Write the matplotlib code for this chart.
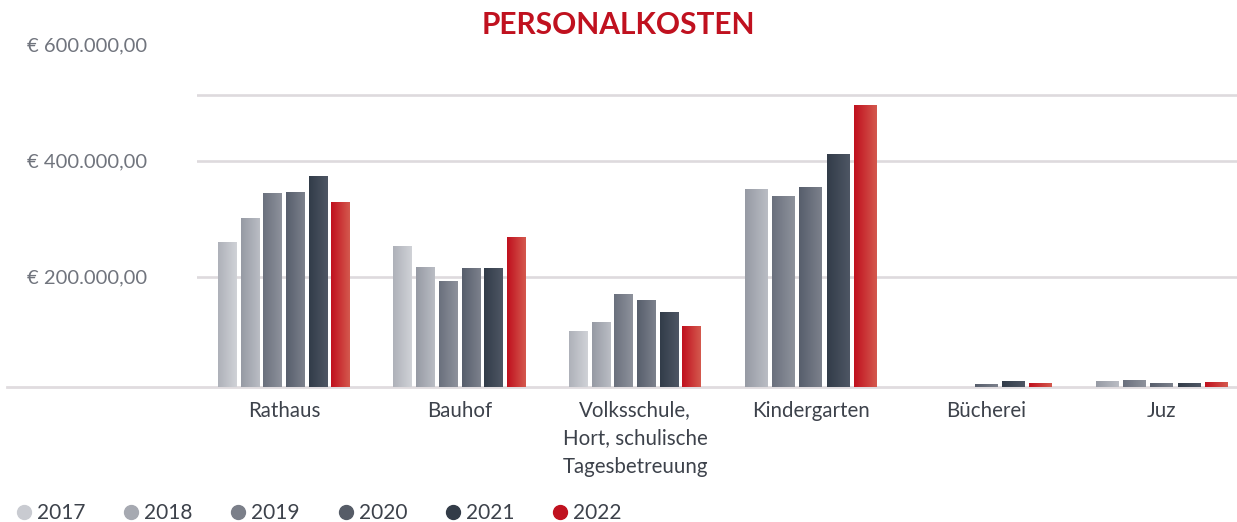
import numpy as np
import matplotlib
matplotlib.use("Agg")
import matplotlib.pyplot as plt
from matplotlib.colors import LinearSegmentedColormap
from matplotlib.lines import Line2D

# ---------------- data ----------------
title = "PERSONALKOSTEN"
categories = ["Rathaus", "Bauhof", "Volksschule,\nHort, schulische\nTagesbetreuung",
              "Kindergarten", "Bücherei", "Juz"]
years = ["2017", "2018", "2019", "2020", "2021", "2022"]
v2017 = [259000, 253000, 106000, None, None, None]
v2018 = [301000, 215500, 121000, 351000, 0, 19000]
v2019 = [344000, 193000, 169000, 339000, 0, 20700]
v2020 = [345500, 214500, 159000, 355000, 13800, 16700]
v2021 = [372500, 214500, 138000, 411000, 19000, 15500]
v2022 = [329000, 268000, 115000, 496000, 16700, 18400]
series = [v2017, v2018, v2019, v2020, v2021, v2022]
ytick_values = [200000, 400000, 600000]
ytick_labels = ["€ 200.000,00", "€ 400.000,00", "€ 600.000,00"]
grid_values = [200000, 400000, 513000]

# ---------------- style ----------------
solid = ["#c9cbd1", "#a6a9b1", "#7b7f89", "#565c67", "#333c48", "#c0111f"]
grad = [("#aeb1b9", "#d0d2d7"), ("#969aa4", "#babdc4"), ("#6a707d", "#8e929c"),
        ("#575e6c", "#7c818c"), ("#323c49", "#4e5664"), ("#c0101e", "#d4594e")]
FONT = ["Lato", "DejaVu Sans"]
plt.rcParams["font.family"] = FONT

fig = plt.figure(figsize=(12.37, 5.22), dpi=100)
ax = fig.add_axes([0.1593, 0.2592, 0.8407, 0.6663])
YMIN, YMAX = 10300, 610000
XMIN = -0.4957
XMAX = XMIN + 1040 / 175.5
G = 0.776
FILL = 0.824

for gv in grid_values:
    ax.axhline(gv, color="#dedadd", lw=1.9, zorder=1)
ax.axhline(YMIN, xmin=-0.183, xmax=1, color="#e0dcdf", lw=2.0, zorder=1, clip_on=False)

# bar positions: categories with fewer series get wider bars
xs = [[] for _ in series]
ws = [[] for _ in series]
hs = [[] for _ in series]
for i in range(len(categories)):
    present = [s for s in range(len(series)) if series[s][i] is not None]
    n = len(present)
    pitch = G / n
    for j, s in enumerate(present):
        xs[s].append(i - G / 2 + pitch * (j + 0.5))
        ws[s].append(pitch * FILL)
        hs[s].append(series[s][i])

for s in range(len(series)):
    bars = ax.bar(xs[s], hs[s], width=ws[s], color=solid[s], zorder=2, linewidth=0)
    cmap = LinearSegmentedColormap.from_list("g%d" % s, list(grad[s]))
    for r in bars:
        x0, y0, w, h = r.get_x(), r.get_y(), r.get_width(), r.get_height()
        if h <= 0:
            continue
        ax.imshow(np.linspace(0, 1, 64).reshape(1, -1), extent=[x0, x0 + w, y0, y0 + h],
                  cmap=cmap, aspect="auto", zorder=3, interpolation="bilinear")

ax.set_xlim(XMIN, XMAX)
ax.set_ylim(YMIN, YMAX)
for sp in ax.spines.values():
    sp.set_visible(False)
ax.set_xticks(range(len(categories)))
ax.set_xticklabels(categories, fontsize=14.8, color="#3d424b", linespacing=1.5)
ax.tick_params(axis="x", length=0, pad=10)
ax.set_yticks(ytick_values)
ax.set_yticklabels(ytick_labels, fontsize=14.5, color="#70747d")
ax.tick_params(axis="y", length=0, pad=36)
ax.patch.set_alpha(0)

fig.text(0.5, 1 - 25 / 522, title, ha="center", va="center", fontsize=21.5,
         fontweight="bold", color="#c0111f")

handles = [Line2D([], [], ls="none", marker="o", markersize=10, color=c) for c in solid]
fig.legend(handles, years, loc="center left", bbox_to_anchor=(0.0, 1 - 513 / 522),
           ncol=6, frameon=False, fontsize=15, handlelength=1.0, handletextpad=0.12,
           columnspacing=1.7, borderpad=0, borderaxespad=0.65, labelcolor="#3d424b")

fig.savefig("out.png", dpi=100)
